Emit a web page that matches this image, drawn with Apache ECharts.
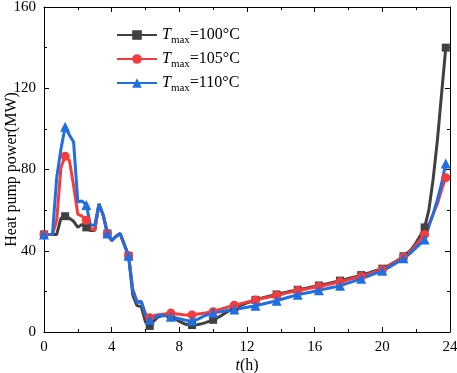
<!DOCTYPE html>
<html>
	<head>
		<meta charset="utf-8">
		<title></title>
		<script src="https://cdn.jsdelivr.net/npm/echarts@6/dist/echarts.min.js"></script>
	</head>
	<body style="margin:0;">
		<div id="my" style="width: 457px;height: 373px;"></div>

		<script>
			var myChart = echarts.init(document.getElementById('my'));

			// 15 min steps, 0 ~ 23.75 h
			var step = 0.25;
			var names = ['100', '105', '110'];

			var p100 = [48, 48, 48, 48,  56, 57, 56, 54.5,  51.5, 53, 51.5, 50,  50, 63, 57.5, 48.5,
				45, 47, 48.5, 43,  37.5, 18, 13, 12.5,  5, 3, 5.5, 7.5,  8, 8, 7.5, 6.5,
				5.2, 4.2, 3.6, 3.4,  3.5, 3.9, 4.5, 5.2,  6, 7, 8.2, 9.5,  10.8, 12, 12.8, 13.5,
				14.3, 15, 15.8, 16.4,  17, 17.5, 18, 18.5,  19, 19.4, 19.9, 20.3,  20.8, 21.2, 21.6, 22,
				22.4, 22.9, 23.4, 23.8,  24.3, 24.8, 25.3, 25.8,  26.3, 26.8, 27.4, 28,  28.6, 29.2, 29.9, 30.5,
				31.2, 32.2, 33.3, 34.5,  35.8, 37.3, 39, 41,  44, 47.5, 51.5, 60,  75, 94, 117, 140];

			var p105 = [48, 48, 48, 55,  81, 86.5, 84.5, 72,  58, 57, 55, 51,  50, 63, 57.5, 48.5,
				45, 47, 48.5, 43,  37.5, 21, 15, 15,  9, 7, 8, 8.5,  8.7, 9, 9.3, 9,
				8.7, 8.5, 8.4, 8.4,  8.7, 9, 9.3, 9.7,  10, 10.7, 11.4, 12,  12.6, 13.2, 13.7, 14.2,
				14.7, 15.2, 15.7, 16.2,  16.7, 17.1, 17.6, 18.1,  18.5, 19, 19.5, 19.9,  20.4, 20.8, 21.2, 21.6,
				22, 22.4, 22.9, 23.3,  23.8, 24.2, 24.7, 25.2,  25.8, 26.3, 26.8, 27.4,  28, 28.7, 29.4, 30.1,
				30.8, 32, 33.2, 34.5,  35.7, 37, 38.5, 40.5,  43, 45.5, 48, 53,  58, 63, 70, 76];

			var p110 = [48, 48, 48, 76,  90, 101, 97, 93.5,  64, 64.5, 62.5, 52.5,  52.5, 63, 57.5, 48.5,
				45, 47, 48.5, 43,  37.5, 20, 14.5, 15,  8, 6, 7, 8,  8.3, 8, 7.5, 7,
				6.5, 6, 5.6, 5.5,  6, 7, 8, 8.8,  9.5, 9.8, 10.1, 10.5,  10.8, 11.1, 11.5, 11.8,
				12.2, 12.5, 12.9, 13.4,  13.9, 14.4, 14.9, 15.4,  16, 16.6, 17.2, 17.8,  18.4, 18.8, 19.2, 19.6,
				20.1, 20.5, 21, 21.4,  21.9, 22.3, 22.8, 23.5,  24.2, 24.8, 25.5, 26.2,  27, 27.8, 28.6, 29.3,
				30.1, 31.2, 32.4, 33.6,  35, 36.3, 37.8, 39.5,  41.5, 43.5, 45.5, 52,  58, 65, 73, 83];

			function makeData(vals) {
				return vals.map(function (v, i) {
					var item = { value: [i * step, v] };
					if (i % 5 !== 0) item.symbol = 'none'; // 每5个点一个标记
					return item;
				});
			}

			var font = '"Liberation Serif", "Times New Roman", serif';
			var axisCommon = {
				axisLine: { onZero: false, lineStyle: { color: '#000', width: 1 } },
				axisTick: { inside: true, length: 5, lineStyle: { color: '#000' } },
				minorTick: { show: true, splitNumber: 2, length: 3, lineStyle: { color: '#000' } },
				splitLine: { show: false },
				axisLabel: { color: '#000', fontFamily: font, fontSize: 15 },
				nameMoveOverlap: false
			};

			var option = {
				animation: false,
				textStyle: { fontFamily: font },
				grid: { left: 44, right: 7, top: 7, bottom: 41, outerBoundsMode: 'none' },
				legend: {
					orient: 'vertical',
					left: 111,
					top: 22,
					itemWidth: 40,
					itemHeight: 12,
					itemGap: 5,
					textStyle: {
						color: '#000',
						fontFamily: font,
						rich: {
							t: { fontFamily: font, fontStyle: 'italic', fontSize: 16, verticalAlign: 'bottom' },
							s: { fontFamily: font, fontSize: 11, verticalAlign: 'bottom', padding: [0, 0, -3, 0] },
							n: { fontFamily: font, fontSize: 16, verticalAlign: 'bottom' }
						}
					},
					formatter: function (name) {
						return '{t|T}{s|max}{n|=' + name + '°C}';
					}
				},
				xAxis: [
					Object.assign({}, axisCommon, {
						type: 'value', min: 0, max: 24, interval: 4,
						name: '{i|t}(h)', nameLocation: 'middle', nameGap: 26,
						nameTextStyle: { color: '#000', fontFamily: font, fontSize: 16, rich: { i: { fontStyle: 'italic', fontFamily: font, fontSize: 16 } } }
					}),
					Object.assign({}, axisCommon, {
						type: 'value', min: 0, max: 24, interval: 4, position: 'top',
						axisLabel: { show: false }
					})
				],
				yAxis: [
					Object.assign({}, axisCommon, {
						type: 'value', min: 0, max: 160, interval: 40,
						name: 'Heat pump power(MW)', nameLocation: 'middle', nameGap: 24,
						nameTextStyle: { color: '#000', fontFamily: font, fontSize: 16 }
					}),
					Object.assign({}, axisCommon, {
						type: 'value', min: 0, max: 160, interval: 40, position: 'right',
						axisLabel: { show: false }
					})
				],
				series: [
					{
						name: names[0], type: 'line', data: makeData(p100),
						symbol: 'rect', symbolSize: 8, showAllSymbol: true,
						itemStyle: { color: '#404040' }, lineStyle: { width: 3, color: '#404040' }
					},
					{
						name: names[1], type: 'line', data: makeData(p105),
						symbol: 'circle', symbolSize: 9, showAllSymbol: true,
						itemStyle: { color: '#f53b3b' }, lineStyle: { width: 3, color: '#f53b3b' }
					},
					{
						name: names[2], type: 'line', data: makeData(p110),
						symbol: 'triangle', symbolSize: 10, showAllSymbol: true,
						itemStyle: { color: '#1e6fe3' }, lineStyle: { width: 3, color: '#1e6fe3' }
					}
				]
			};

			myChart.setOption(option);
		</script>
	</body>
</html>
